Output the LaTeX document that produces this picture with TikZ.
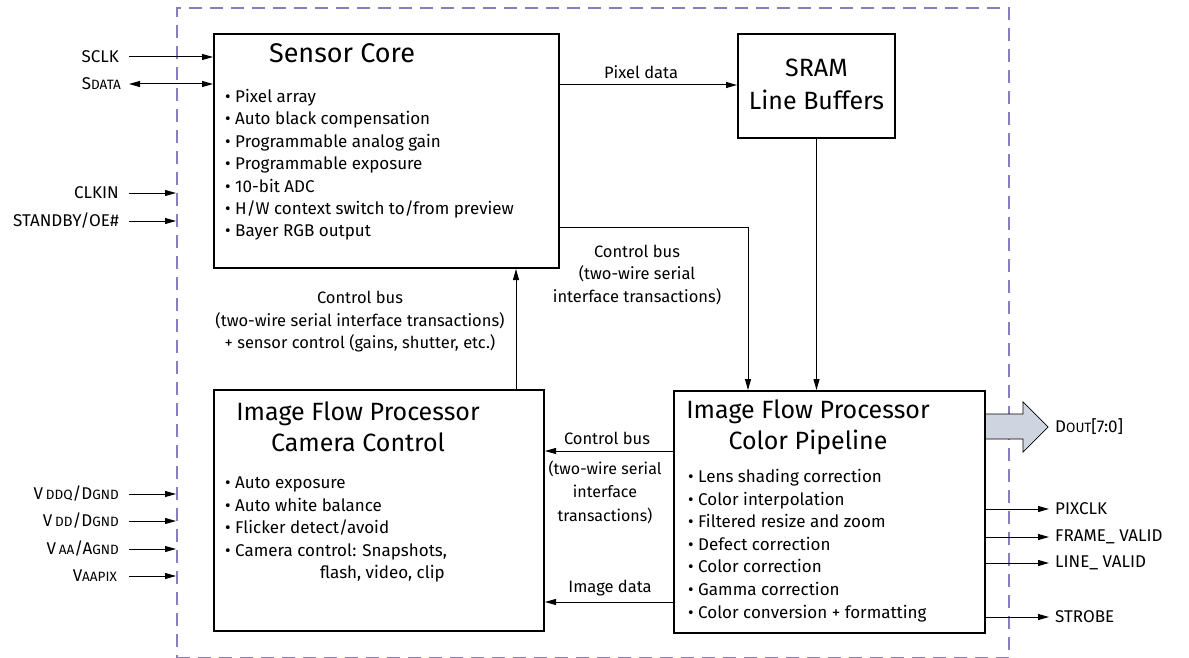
\documentclass[tikz,border=0pt]{standalone}
\usepackage{fontspec}
\setmainfont{Fira Sans}
\usepackage{tikz}
\usetikzlibrary{arrows.meta}
\usepackage{xcolor}

\definecolor{framepurple}{RGB}{138,125,190}
\definecolor{doutfill}{RGB}{206,213,224}
\newcommand{\smc}[1]{{\fontsize{13.5}{14}\selectfont #1}}

\tikzset{
  blk/.style={draw, line width=2pt, inner sep=0pt, anchor=north west},
  ttl/.style={font=\fontsize{25}{31}\selectfont, align=center, inner sep=0pt},
  lst/.style={font=\fontsize{17}{22.4}\selectfont, align=left, anchor=north west, inner sep=0pt},
  lbl/.style={font=\fontsize{16.5}{22.5}\selectfont, align=center, inner sep=0pt},
  pinlbl/.style={font=\fontsize{17}{20}\selectfont, inner sep=0pt},
  arr/.style={line width=1pt, -{Triangle[length=11pt,width=6pt]}},
  dbl/.style={line width=1pt, {Triangle[length=11pt,width=6pt]}-{Triangle[length=11pt,width=6pt]}},
}

\begin{document}
\begin{tikzpicture}[x=1pt,y=1pt,yscale=-1,xscale=1]
\useasboundingbox (0,0) rectangle (1189,658);

%Shape: Chip outline
\node (chip) [draw=framepurple, line width=2.2pt, dash pattern={on 13pt off 8pt}, inner sep=0pt, anchor=north west, minimum width=832pt, minimum height=650pt] at (176,7) {};

%Shape: Blocks
\node (core) [blk, minimum width=345pt, minimum height=234pt] at (213,33) {};
\node (sram) [blk, minimum width=157pt, minimum height=104pt] at (737,33) {};
\node (camctl) [blk, minimum width=330pt, minimum height=241pt] at (213,389) {};
\node (pipe) [blk, minimum width=311pt, minimum height=242pt] at (673,390) {};

% Text Node
\node (coretitle) [ttl, font=\fontsize{27}{31}\selectfont] at (342,53) {Sensor Core};
% Text Node
\node (corelist) [lst] at (225,89) {• Pixel array\\• Auto black compensation\\• Programmable analog gain\\• Programmable exposure\\• 10-bit ADC\\• H/W context switch to/from preview\\• Bayer RGB output};
% Text Node
\node (sramtitle) [ttl, font=\fontsize{25}{33}\selectfont] at ([yshift=-2pt]sram.center) {SRAM\\Line Buffers};
% Text Node
\node (camtitle) [ttl] at (358,427) {Image Flow Processor\\Camera Control};
% Text Node
\node (camlist) [lst] at (225,477) {• Auto exposure\\• Auto white balance\\• Flicker detect/avoid\\• Camera control: Snapshots,\\\hspace*{95pt}flash, video, clip};
% Text Node
\node (pipetitle) [ttl] at (808,427) {Image Flow Processor\\Color Pipeline};
% Text Node
\node (pipelist) [lst, font=\fontsize{17}{22.6}\selectfont] at (688,469) {• Lens shading correction\\• Color interpolation\\• Filtered resize and zoom\\• Defect correction\\• Color correction\\• Gamma correction\\• Color conversion + formatting};

%Pins: left side
\node (sclk) [pinlbl, anchor=east] at (119,57) {SCLK};
\node (sdata) [pinlbl, anchor=east] at (121,84) {S\smc{DATA}};
\node (clkin) [pinlbl, anchor=east] at (119,193) {CLKIN};
\node (stby) [pinlbl, anchor=east] at (119,221) {STANDBY/OE\#};
\node (vddq) [pinlbl, anchor=east] at (119,494) {V\,\smc{DDQ}/D\smc{GND}};
\node (vdd) [pinlbl, anchor=east] at (119,521) {V\,\smc{DD}/D\smc{GND}};
\node (vaa) [pinlbl, anchor=east] at (119,549) {V\,\smc{AA}/A\smc{GND}};
\node (vaapix) [pinlbl, anchor=east] at (117,576) {V\smc{AAPIX}};

%Pins: right side
\node (dout) [pinlbl, anchor=west] at (1055,427) {D\smc{OUT}[7:0]};
\node (pixclk) [pinlbl, anchor=west] at (1055,509) {PIXCLK};
\node (fvalid) [pinlbl, anchor=west] at (1055,537) {FRAME\_ VALID};
\node (lvalid) [pinlbl, anchor=west] at (1055,563) {LINE\_ VALID};
\node (strobe) [pinlbl, anchor=west] at (1055,617) {STROBE};

%Arrows: pins
\draw [arr] ([xshift=10pt]sclk.east) -- (core.west |- sclk.east);
\draw [dbl] ([xshift=8pt]sdata.east) -- (core.west |- sdata.east);
\draw [arr] ([xshift=10pt]clkin.east) -- (chip.west |- clkin.east);
\draw [arr] ([xshift=10pt]stby.east) -- (chip.west |- stby.east);
\draw [arr] ([xshift=10pt]vddq.east) -- (chip.west |- vddq.east);
\draw [arr] ([xshift=10pt]vdd.east) -- (chip.west |- vdd.east);
\draw [arr] ([xshift=10pt]vaa.east) -- (chip.west |- vaa.east);
\draw [arr] ([xshift=12pt]vaapix.east) -- (chip.west |- vaapix.east);
\draw [arr] (pipe.east |- pixclk.west) -- ([xshift=-6pt]pixclk.west);
\draw [arr] (pipe.east |- fvalid.west) -- ([xshift=-6pt]fvalid.west);
\draw [arr] (pipe.east |- lvalid.west) -- ([xshift=-6pt]lvalid.west);
\draw [arr] (pipe.east |- strobe.west) -- ([xshift=-6pt]strobe.west);

%Shape: Block arrow for data out
\draw [line width=0.7pt, fill=doutfill] (pipe.east |- 0,414) -- (1023,414) -- (1023,402) -- ([xshift=-7pt]dout.west) -- (1023,452) -- (1023,439) -- (pipe.east |- 0,439);

%Arrows: between blocks
\draw [arr] (core.east |- 0,85) -- (sram.west |- 0,85);
\draw [arr] (core.east |- 0,227) -| ([xshift=75pt]pipe.north west);
\draw [arr] (sram.south) -- (sram.south |- pipe.north);
\draw [arr] ([xshift=303pt]camctl.north west) -- ([xshift=303pt]camctl.north west |- core.south);
\draw [arr] (pipe.west |- 0,451) -- (camctl.east |- 0,451);
\draw [arr] (pipe.west |- 0,602) -- (camctl.east |- 0,602);

% Text Node
\node (pixlbl) [lbl] at (641,72) {Pixel data};
% Text Node
\node (busmid) [lbl] at (637,275) {Control bus\\(two-wire serial\\interface transactions)};
% Text Node
\node (busup) [lbl] at (360,322) {Control bus\\(two-wire serial interface transactions)\\+ sensor control (gains, shutter, etc.)};
% Text Node
\node (busleft) [lbl] at (607,438) {Control bus};
% Text Node
\node (busnote) [lbl, font=\fontsize{16}{23.5}\selectfont] at (605,492) {(two-wire serial\\interface\\transactions)};
% Text Node
\node (imglbl) [lbl] at (610,588) {Image data};

\end{tikzpicture}
\end{document}
